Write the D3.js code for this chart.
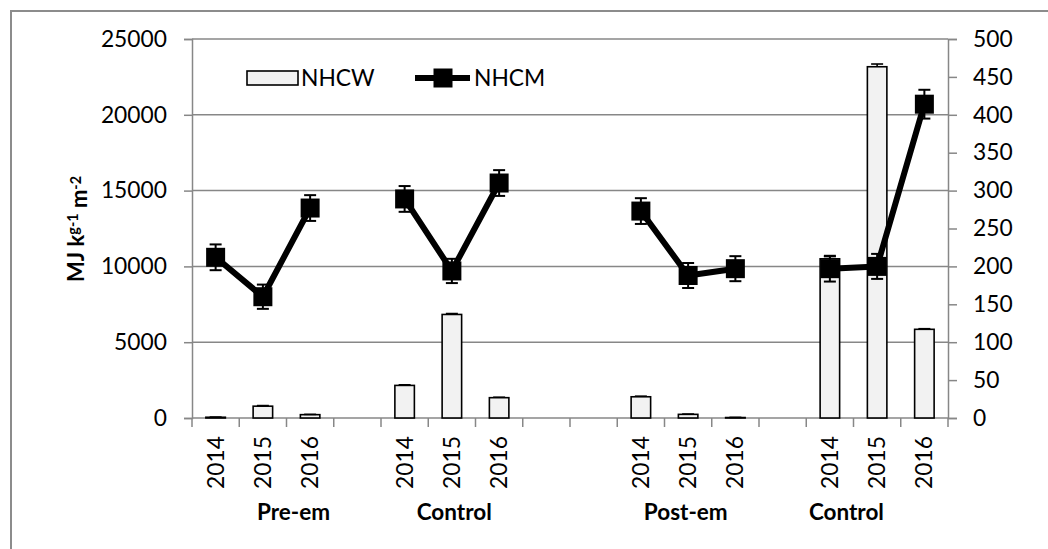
<!DOCTYPE html>
<html><head><meta charset="utf-8">
<script src="https://cdn.jsdelivr.net/npm/d3@7"></script>
<style>
html,body{margin:0;padding:0;background:#fff;}
svg{display:block;font-family:Lato,"Open Sans",sans-serif;}
</style></head>
<body>
<svg id="chart" width="1048" height="549"></svg>
<script>
// ---- data ----
const slots = d3.range(16);
const yearLabels = ["2014","2015","2016","","2014","2015","2016","","","2014","2015","2016","","2014","2015","2016"];
const groupNames = ["Pre-em","Control","Post-em","Control"];
const groupAt = [2.15, 5.55, 10.45, 13.85]; // label position in slot units
const nhcw = [50,780,220,null,2150,6830,1340,null,null,1400,240,30,null,10500,23170,5850];
const nhcwErr = [10,40,20,null,40,60,30,null,null,40,20,10,null,150,180,40];
const nhcm = [212,160,277,null,289,194,310,null,null,273,188,197,null,197,200,414];
const nhcmErr = [17,16,17,null,17,16,17,null,null,17,16.5,16.5,null,17,16.5,19];
const leftTicks = [0,5000,10000,15000,20000,25000];
const rightTicks = [0,50,100,150,200,250,300,350,400,450,500];

const svg = d3.select("#chart");
const L = 192, R = 948, T = 39, B = 418;
const grid = "#878787";

// outer border
svg.append("rect").attr("x",11).attr("y",11).attr("width",1100).attr("height",600)
  .attr("fill","none").attr("stroke","#8c8c8c").attr("stroke-width",2);

const x = d3.scaleBand().domain(slots).range([L,R]).padding(0);
const yL = d3.scaleLinear().domain([0,25000]).range([B,T]);
const yR = d3.scaleLinear().domain([0,500]).range([B,T]);

// gridlines
svg.append("g").selectAll("line").data(leftTicks.filter(d=>d>0)).join("line")
  .attr("x1",L).attr("x2",R).attr("y1",d=>yL(d)).attr("y2",d=>yL(d))
  .attr("stroke",grid).attr("stroke-width",1.5);

// left axis
const gl = svg.append("g").attr("transform",`translate(${L},0)`)
  .call(d3.axisLeft(yL).tickValues(leftTicks).tickSize(8).tickPadding(17).tickFormat(d3.format("d")));
// right axis
const gr = svg.append("g").attr("transform",`translate(${R},0)`)
  .call(d3.axisRight(yR).tickValues(rightTicks).tickSize(9).tickPadding(16).tickFormat(d3.format("d")));
[gl,gr].forEach(g=>{
  g.select(".domain").attr("stroke",grid).attr("stroke-width",1.5);
  g.selectAll(".tick line").attr("stroke",grid).attr("stroke-width",1.5);
  g.selectAll(".tick text").attr("font-size",22.8).attr("fill","#000").attr("font-family","Lato");
});

// bottom axis: boundary ticks
const bounds = slots.map(i=>x(i)).concat([R]);
svg.append("line").attr("x1",L).attr("x2",R).attr("y1",B).attr("y2",B).attr("stroke",grid).attr("stroke-width",1.5);
svg.append("g").selectAll("line").data(bounds).join("line")
  .attr("x1",d=>d).attr("x2",d=>d).attr("y1",B).attr("y2",B+9)
  .attr("stroke",grid).attr("stroke-width",1.5);

// year labels
svg.append("g").selectAll("text").data(slots.filter(i=>yearLabels[i])).join("text")
  .attr("transform",i=>`translate(${x(i)+x.bandwidth()/2},${436}) rotate(-90)`)
  .attr("text-anchor","end").attr("dy","0.35em")
  .attr("font-size",22.8).text(i=>yearLabels[i]);

// group labels
svg.append("g").selectAll("text").data(groupNames).join("text")
  .attr("x",(d,i)=>L + groupAt[i]*x.step()).attr("y",520)
  .attr("text-anchor","middle").attr("font-weight","bold").attr("font-size",22.5)
  .text(d=>d);

// bars
const bw = 19.5;
const bi = slots.filter(i=>nhcw[i]!=null);
svg.append("g").selectAll("rect").data(bi).join("rect")
  .attr("x",i=>x(i)+x.bandwidth()/2-bw/2).attr("width",bw)
  .attr("y",i=>yL(nhcw[i])).attr("height",i=>B-yL(nhcw[i]))
  .attr("fill","#f2f2f2").attr("stroke","#000").attr("stroke-width",1.6);
// bar error bars (plus)
const be = svg.append("g").attr("stroke","#000").attr("stroke-width",1.6);
bi.forEach(i=>{
  const cx = x(i)+x.bandwidth()/2;
  be.append("line").attr("x1",cx).attr("x2",cx).attr("y1",yL(nhcw[i])).attr("y2",yL(nhcw[i]+nhcwErr[i]));
  be.append("line").attr("x1",cx-6).attr("x2",cx+6).attr("y1",yL(nhcw[i]+nhcwErr[i])).attr("y2",yL(nhcw[i]+nhcwErr[i]));
});

// line error bars
const mi = slots.filter(i=>nhcm[i]!=null);
const le = svg.append("g").attr("stroke","#000").attr("stroke-width",2);
mi.forEach(i=>{
  const cx = x(i)+x.bandwidth()/2;
  const hi = yR(nhcm[i]+nhcmErr[i]), lo = yR(nhcm[i]-nhcmErr[i]);
  le.append("line").attr("x1",cx).attr("x2",cx).attr("y1",hi).attr("y2",lo);
  le.append("line").attr("x1",cx-6).attr("x2",cx+6).attr("y1",hi).attr("y2",hi);
  le.append("line").attr("x1",cx-6).attr("x2",cx+6).attr("y1",lo).attr("y2",lo);
});

// line
const line = d3.line().defined(i=>nhcm[i]!=null)
  .x(i=>x(i)+x.bandwidth()/2).y(i=>yR(nhcm[i]));
svg.append("path").datum(slots).attr("d",line)
  .attr("fill","none").attr("stroke","#000").attr("stroke-width",6).attr("stroke-linejoin","round");
const ms = 19;
svg.append("g").selectAll("rect").data(mi).join("rect")
  .attr("x",i=>x(i)+x.bandwidth()/2-ms/2).attr("y",i=>yR(nhcm[i])-ms/2)
  .attr("width",ms).attr("height",ms).attr("fill","#000");

// y title
const yt = svg.append("text").attr("transform","translate(84,229) rotate(-90)")
  .attr("text-anchor","middle").attr("font-weight","bold").attr("font-size",22);
yt.append("tspan").text("MJ k");
yt.append("tspan").attr("dy","-0.45em").attr("font-size","0.65em").text("g-1");
yt.append("tspan").attr("dy","0.45em").text(" m");
yt.append("tspan").attr("dy","-0.45em").attr("font-size","0.65em").text("-2");

// legend
const ly = 78;
svg.append("rect").attr("x",247).attr("y",ly-7).attr("width",51).attr("height",14)
  .attr("fill","#f2f2f2").attr("stroke","#000").attr("stroke-width",1.6);
svg.append("text").attr("x",301).attr("y",ly).attr("dy","0.35em").attr("font-size",22.8).text("NHCW");
svg.append("line").attr("x1",415).attr("x2",470).attr("y1",ly).attr("y2",ly).attr("stroke","#000").attr("stroke-width",6);
svg.append("rect").attr("x",443-ms/2).attr("y",ly-ms/2).attr("width",ms).attr("height",ms).attr("fill","#000");
svg.append("text").attr("x",474).attr("y",ly).attr("dy","0.35em").attr("font-size",22.8).text("NHCM");
</script>
</body></html>
